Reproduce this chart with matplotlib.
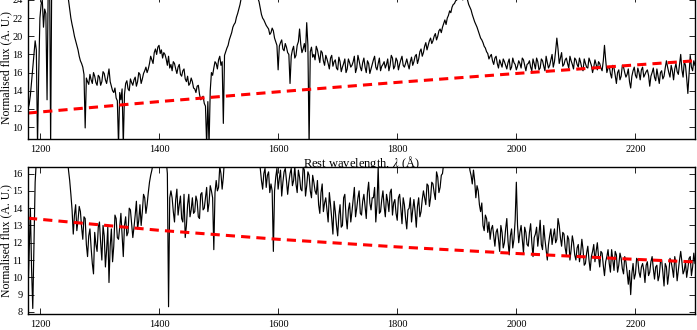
import numpy as np
import matplotlib
matplotlib.use("Agg")
import matplotlib.pyplot as plt

plt.rcParams['font.family'] = ['Liberation Serif', 'DejaVu Serif']
plt.rcParams['mathtext.fontset'] = 'stix'

# Rest-frame wavelength grids (Angstrom): even samples and the samples in between
wave_even = np.arange(1180, 2301, 4)
wave_mid = np.arange(1182, 2300, 4)

# Upper spectrum (normalised flux, A. U.) at wave_even
flux_top = [
    12.0, 13.5, 16.5, 19.5, 8.0, 22.0, 24.0, 23.0, 13.0, 30.0,   # 1180
    28.0, 35.0, 40.0, 38.0, 33.0, 30.0, 26.0, 24.0, 22.0, 20.7,  # 1220
    19.5, 18.5, 17.3, 16.6, 9.9, 15.0, 15.8, 14.8, 15.6, 14.6,   # 1260
    15.5, 15.0, 15.9, 14.8, 16.4, 14.5, 13.8, 13.2, 8.0, 13.0,   # 1300
    8.0, 14.8, 14.2, 15.3, 14.6, 15.5, 15.0, 15.8, 15.3, 16.2,   # 1340
    16.0, 17.0, 17.4, 18.2, 18.0, 19.0, 18.5, 18.2, 17.5, 17.8,  # 1380
    16.9, 17.2, 16.4, 16.6, 15.8, 16.2, 15.3, 15.6, 14.8, 15.0,  # 1420
    14.2, 14.5, 13.6, 13.2, 12.6, 8.0, 8.0, 16.0, 16.5, 17.0,    # 1460
    17.4, 16.8, 10.4, 18.3, 19.0, 20.0, 21.0, 21.5, 22.5, 23.5,  # 1500
    25.0, 27.0, 30.0, 32.0, 30.0, 27.0, 25.0, 23.8, 22.4, 21.8,  # 1540
    21.2, 20.8, 20.4, 20.6, 19.4, 16.3, 19.3, 18.6, 19.2, 18.2,  # 1580
    14.8, 18.5, 17.6, 19.0, 20.8, 18.2, 19.2, 21.5, 8.0, 18.8,   # 1620
    18.0, 18.9, 17.8, 18.4, 17.3, 17.9, 17.0, 17.6, 16.7, 17.4,  # 1660
    16.3, 17.2, 16.6, 17.5, 16.4, 17.1, 16.8, 17.8, 16.5, 17.3,  # 1700
    16.2, 17.6, 16.0, 17.0, 16.4, 17.4, 16.6, 17.0, 16.2, 16.9,  # 1740
    16.5, 17.5, 16.8, 17.6, 16.7, 17.3, 16.9, 17.8, 16.6, 17.5,  # 1780
    16.4, 17.7, 17.2, 18.0, 17.5, 18.6, 18.2, 19.3, 19.0, 19.8,  # 1820
    19.5, 20.3, 20.0, 20.8, 21.0, 21.8, 22.0, 22.8, 23.2, 23.6,  # 1860
    24.0, 24.3, 24.6, 24.2, 24.4, 23.5, 22.9, 22.0, 21.3, 20.6,  # 1900
    19.8, 19.3, 18.7, 18.1, 17.8, 17.3, 17.6, 17.0, 17.4, 16.6,  # 1940
    17.2, 16.4, 17.5, 16.6, 17.1, 16.3, 17.3, 16.5, 17.4, 16.2,  # 1980
    17.0, 16.6, 17.5, 16.4, 17.2, 16.5, 17.3, 16.2, 17.1, 16.8,  # 2020
    18.0, 17.2, 19.8, 17.0, 18.2, 16.9, 17.6, 16.5, 17.3, 16.4,  # 2060
    17.4, 16.6, 17.1, 16.2, 17.0, 16.5, 17.2, 16.0, 17.4, 16.3,  # 2100
    17.0, 16.2, 19.0, 16.0, 16.7, 15.4, 16.5, 14.8, 16.3, 15.6,  # 2140
    16.6, 15.5, 16.4, 14.3, 16.2, 15.7, 16.5, 15.2, 16.6, 15.8,  # 2180
    16.3, 14.5, 16.0, 15.5, 16.4, 14.8, 16.2, 15.6, 17.3, 16.0,  # 2220
    16.8, 15.2, 17.0, 15.8, 18.0, 15.5, 16.8, 13.7, 17.9, 16.2,  # 2260
    16.8,                                                        # 2300
]
# Upper spectrum at wave_mid
flux_top_mid = [
    12.5, 15.0, 18.0, 18.5, 16.0, 23.5, 21.0, 22.5, 26.0, 8.0,   # 1182
    32.0, 37.0, 39.0, 36.0, 31.0, 28.0, 25.0, 23.0, 21.3, 20.0,  # 1222
    19.0, 17.8, 17.0, 15.8, 15.4, 14.7, 15.2, 16.0, 14.9, 15.7,  # 1262
    14.6, 16.1, 15.2, 15.6, 15.0, 14.0, 14.3, 12.9, 13.8, 14.2,  # 1302
    13.6, 15.1, 14.0, 14.9, 15.2, 14.5, 16.0, 14.8, 15.9, 16.6,  # 1342
    16.4, 17.8, 17.0, 18.6, 18.8, 18.1, 17.6, 18.0, 16.8, 16.5,  # 1382
    16.2, 17.0, 15.9, 16.9, 15.6, 16.4, 15.0, 14.6, 15.4, 14.3,  # 1422
    13.8, 14.6, 13.0, 13.4, 12.3, 12.8, 14.0, 15.7, 17.2, 16.4,  # 1462
    17.8, 17.2, 17.9, 18.7, 19.6, 20.4, 21.3, 22.1, 23.0, 24.2,  # 1502
    26.0, 28.5, 31.0, 31.0, 28.5, 26.0, 24.2, 23.1, 22.0, 21.5,  # 1542
    21.0, 20.2, 20.9, 19.8, 19.0, 18.9, 19.6, 18.4, 18.8, 18.0,  # 1582
    17.8, 18.9, 17.9, 19.4, 19.1, 18.6, 18.3, 19.0, 18.3, 17.7,  # 1622
    17.4, 18.5, 17.1, 18.2, 16.8, 17.5, 16.4, 17.9, 17.2, 16.5,  # 1662
    17.7, 16.1, 17.0, 16.0, 17.5, 16.6, 17.2, 16.0, 17.9, 16.6,  # 1702
    17.1, 16.6, 17.3, 15.9, 16.9, 17.8, 16.3, 17.6, 16.7, 17.2,  # 1742
    16.9, 16.2, 17.9, 16.4, 17.6, 16.3, 17.4, 16.8, 17.0, 16.9,  # 1782
    17.2, 16.8, 17.8, 17.0, 18.3, 17.8, 18.9, 18.5, 19.5, 19.2,  # 1822
    20.0, 19.6, 20.6, 20.4, 21.4, 21.3, 22.3, 22.6, 23.5, 23.9,  # 1862
    24.2, 24.5, 24.0, 24.7, 24.0, 23.2, 22.4, 21.6, 21.0, 20.2,  # 1902
    19.6, 18.9, 18.3, 17.5, 18.0, 16.9, 17.8, 16.5, 17.0, 17.5,  # 1942
    16.8, 17.1, 16.3, 17.6, 16.9, 16.7, 17.0, 17.6, 16.8, 16.9,  # 1982
    17.3, 16.2, 17.0, 17.6, 16.3, 17.5, 16.7, 17.8, 16.5, 17.4,  # 2022
    16.6, 18.4, 18.6, 17.6, 16.7, 17.4, 17.0, 17.8, 16.9, 17.6,  # 2062
    16.9, 17.6, 16.5, 17.5, 16.6, 17.6, 16.8, 16.6, 16.9, 17.2,  # 2102
    16.5, 17.3, 17.4, 16.5, 15.9, 16.8, 15.7, 16.0, 15.2, 16.8,  # 2142
    16.0, 15.8, 15.0, 15.6, 16.6, 15.4, 16.0, 16.3, 15.5, 16.1,  # 2182
    15.7, 15.6, 16.5, 15.1, 15.6, 16.0, 15.3, 16.5, 16.6, 15.5,  # 2222
    16.2, 16.4, 16.1, 16.9, 16.3, 17.2, 15.4, 15.8, 16.6, 17.3,  # 2262
]

# Lower spectrum (normalised flux, A. U.) at wave_even
flux_bottom = [
    9.0, 14.0, 8.2, 15.5, 18.0, 22.0, 26.0, 30.0, 34.0, 36.0,    # 1180
    34.0, 30.0, 27.0, 24.0, 21.0, 19.0, 18.0, 16.2, 14.8, 12.5,  # 1220
    14.2, 13.3, 13.8, 12.2, 13.4, 11.2, 12.8, 10.8, 12.6, 11.5,  # 1260
    13.2, 11.0, 12.4, 11.6, 9.7, 12.8, 11.8, 13.4, 12.2, 13.7,   # 1300
    11.2, 13.5, 12.6, 13.9, 12.3, 13.6, 12.8, 14.2, 13.8, 14.6,  # 1340
    14.2, 15.5, 16.2, 17.0, 18.0, 19.0, 18.5, 17.5, 16.8, 8.3,   # 1380
    15.0, 13.8, 14.5, 13.6, 14.7, 13.2, 12.3, 14.2, 13.5, 14.6,  # 1420
    13.8, 14.4, 13.4, 14.9, 14.0, 15.2, 14.3, 15.0, 11.6, 15.6,  # 1460
    15.2, 16.0, 15.8, 16.8, 17.5, 18.5, 19.5, 20.5, 21.5, 22.5,  # 1500
    23.0, 23.5, 23.0, 22.0, 20.5, 18.0, 17.2, 16.6, 15.6, 16.0,  # 1540
    15.2, 16.1, 15.4, 11.5, 15.8, 15.1, 16.2, 15.5, 16.3, 14.8,  # 1580
    16.0, 15.3, 16.4, 14.9, 15.8, 15.0, 16.2, 15.3, 15.9, 14.6,  # 1620
    15.5, 14.8, 14.2, 14.9, 13.8, 14.6, 13.2, 14.2, 12.5, 13.8,  # 1660
    12.4, 14.2, 13.0, 14.8, 12.8, 14.3, 13.8, 15.2, 14.0, 15.0,  # 1700
    13.6, 14.8, 13.4, 15.5, 13.9, 14.6, 13.2, 16.4, 13.8, 15.0,  # 1740
    13.5, 14.4, 14.9, 13.6, 14.5, 13.3, 14.8, 13.1, 14.2, 12.8,  # 1780
    14.0, 13.2, 14.5, 12.9, 14.6, 13.8, 15.0, 14.2, 15.3, 14.6,  # 1820
    15.4, 14.5, 15.8, 15.2, 16.0, 16.4, 17.0, 18.0, 19.0, 20.0,  # 1860
    21.0, 21.5, 21.0, 20.0, 18.5, 17.0, 15.9, 16.2, 14.6, 15.0,  # 1900
    13.8, 13.0, 13.6, 12.6, 12.2, 13.0, 11.8, 12.8, 11.5, 12.6,  # 1940
    12.0, 13.4, 11.3, 12.8, 12.2, 15.5, 12.0, 13.0, 11.4, 12.6,  # 1980
    11.8, 13.1, 11.2, 12.5, 11.8, 13.3, 11.6, 12.2, 11.0, 12.4,  # 2020
    11.9, 12.8, 12.2, 13.0, 11.8, 12.5, 11.3, 12.2, 11.6, 12.0,  # 2060
    11.0, 11.9, 11.4, 11.6, 10.8, 11.8, 10.4, 11.5, 10.9, 12.0,  # 2100
    10.6, 11.4, 10.1, 11.2, 10.8, 11.6, 10.4, 11.3, 10.7, 11.1,  # 2140
    10.2, 10.9, 9.6, 9.0, 10.8, 10.2, 11.0, 10.0, 10.8, 9.7,     # 2180
    10.9, 10.3, 11.2, 9.9, 10.7, 10.1, 11.0, 9.5, 10.6, 10.2,    # 2220
    10.9, 10.0, 10.8, 10.4, 11.5, 10.2, 10.9, 10.5, 11.2, 10.6,  # 2260
    10.8,                                                        # 2300
]
# Lower spectrum at wave_mid
flux_bottom_mid = [
    11.5, 10.5, 12.0, 16.8, 20.0, 24.0, 28.0, 32.0, 35.0, 35.0,  # 1182
    32.0, 28.5, 25.5, 22.5, 20.0, 18.5, 17.0, 15.6, 13.9, 13.6,  # 1222
    12.7, 14.1, 12.9, 13.5, 11.9, 12.4, 11.7, 10.2, 11.9, 12.9,  # 1262
    12.0, 13.0, 10.6, 12.9, 11.8, 10.9, 13.6, 12.3, 12.9, 12.5,  # 1302
    13.0, 12.4, 14.0, 13.1, 12.9, 14.4, 13.3, 13.0, 14.8, 13.7,  # 1342
    14.9, 15.9, 16.6, 17.5, 18.5, 18.9, 17.9, 17.2, 16.0, 14.6,  # 1382
    14.6, 13.2, 15.1, 14.2, 13.4, 14.8, 13.0, 14.8, 13.9, 13.7,  # 1422
    14.7, 13.5, 14.8, 13.9, 14.6, 13.8, 15.3, 14.6, 14.9, 15.0,  # 1462
    16.4, 15.1, 16.9, 17.0, 18.0, 19.0, 20.0, 21.0, 22.0, 23.0,  # 1502
    23.4, 23.3, 22.5, 21.0, 19.2, 17.6, 16.9, 16.3, 15.1, 16.3,  # 1542
    15.9, 14.9, 15.0, 15.0, 16.3, 15.7, 14.7, 16.1, 15.6, 15.5,  # 1582
    16.3, 15.6, 15.4, 16.2, 15.1, 16.4, 14.7, 16.1, 15.0, 15.9,  # 1622
    15.0, 15.6, 13.7, 15.4, 14.3, 13.9, 14.9, 13.4, 14.4, 13.0,  # 1662
    13.6, 12.9, 14.6, 13.5, 13.9, 13.2, 14.5, 13.5, 14.6, 13.7,  # 1702
    14.4, 14.1, 14.9, 14.3, 14.6, 15.2, 14.2, 13.7, 14.5, 14.1,  # 1742
    14.8, 13.8, 15.1, 14.3, 13.7, 14.6, 14.0, 14.6, 13.4, 13.9,  # 1782
    14.6, 13.9, 13.8, 14.1, 13.5, 14.5, 14.6, 15.4, 14.1, 15.5,  # 1822
    14.9, 16.1, 14.9, 15.9, 16.6, 16.5, 17.5, 18.5, 19.5, 20.5,  # 1862
    21.3, 21.3, 20.5, 19.2, 17.8, 16.2, 15.4, 15.6, 15.3, 14.2,  # 1902
    14.3, 12.7, 13.4, 13.2, 12.8, 12.4, 12.6, 12.2, 13.0, 11.7,  # 1942
    12.8, 12.1, 12.4, 11.7, 13.3, 13.0, 12.6, 12.2, 12.9, 11.9,  # 1982
    12.6, 12.0, 12.3, 12.9, 12.5, 11.9, 13.0, 11.6, 11.9, 12.8,  # 2022
    12.4, 12.0, 13.4, 12.3, 12.6, 11.7, 12.4, 11.0, 12.4, 11.3,  # 2062
    11.7, 10.9, 12.2, 10.7, 11.4, 11.0, 11.2, 11.9, 11.5, 11.2,  # 2102
    11.5, 10.7, 10.9, 11.6, 10.3, 11.0, 11.5, 10.3, 11.4, 10.5,  # 2142
    11.2, 10.3, 10.4, 10.2, 9.9, 11.1, 10.3, 10.6, 10.4, 10.7,   # 2182
    10.1, 10.9, 10.5, 10.6, 9.8, 10.9, 10.3, 10.8, 9.6, 11.1,    # 2222
    10.5, 11.2, 9.8, 11.0, 10.9, 10.4, 10.0, 11.1, 10.1, 11.4,   # 2262
]

# Power-law continuum fits, read at a few wavelengths
cont_wave = [1180, 1400, 1600, 1800, 2000, 2200, 2300]
cont_top = [11.54, 12.80, 13.88, 14.92, 15.90, 16.84, 17.30]
cont_bottom = [13.42, 12.72, 12.20, 11.76, 11.38, 11.04, 10.89]

xticks = [1200, 1400, 1600, 1800, 2000, 2200]
yticks_top = [10, 12, 14, 16, 18, 20, 22, 24]
yticks_bottom = [8, 9, 10, 11, 12, 13, 14, 15, 16]


def merged(even, mid):
    w = np.concatenate([wave_even[:len(even)], wave_mid[:len(mid)]])
    f = np.concatenate([np.asarray(even, float), np.asarray(mid, float)])
    order = np.argsort(w)
    return w[order], f[order]


W, H = 697, 330
fig = plt.figure(figsize=(W / 100, H / 100), dpi=100)

left = 28 / W
width = 667 / W
ax1 = fig.add_axes([left, (H - 139) / H, width, 143.1 / H])
ax2 = fig.add_axes([left, 16 / H, width, 147 / H])

panels = [
    (ax1, flux_top, flux_top_mid, cont_top, (8.68, 24.45), yticks_top),
    (ax2, flux_bottom, flux_bottom_mid, cont_bottom, (7.88, 16.38), yticks_bottom),
]
for ax, even, mid, cont, ylim, yt in panels:
    w, f = merged(even, mid)
    ax.plot(w, f, color='black', lw=0.85)
    ax.plot(cont_wave, cont, color='#ff0000', lw=2.2, linestyle=(0, (3.0, 2.0)))
    ax.set_xlim(1180, 2300)
    ax.set_ylim(*ylim)
    ax.set_xticks(xticks)
    ax.set_yticks(yt)
    ax.tick_params(direction='in', top=True, right=True, labelsize=7.5,
                   length=4, width=0.6, pad=4)
    for s in ax.spines.values():
        s.set_linewidth(1.0)
    ax.set_ylabel('Normalised flux (A. U.)', fontsize=8.5)
    ax.yaxis.set_label_coords(-0.024, 0.5)

ax1.set_xlabel('Rest wavelength, $\\lambda$ (Å)', fontsize=9, labelpad=0)

fig.savefig('out.png', dpi=100)
